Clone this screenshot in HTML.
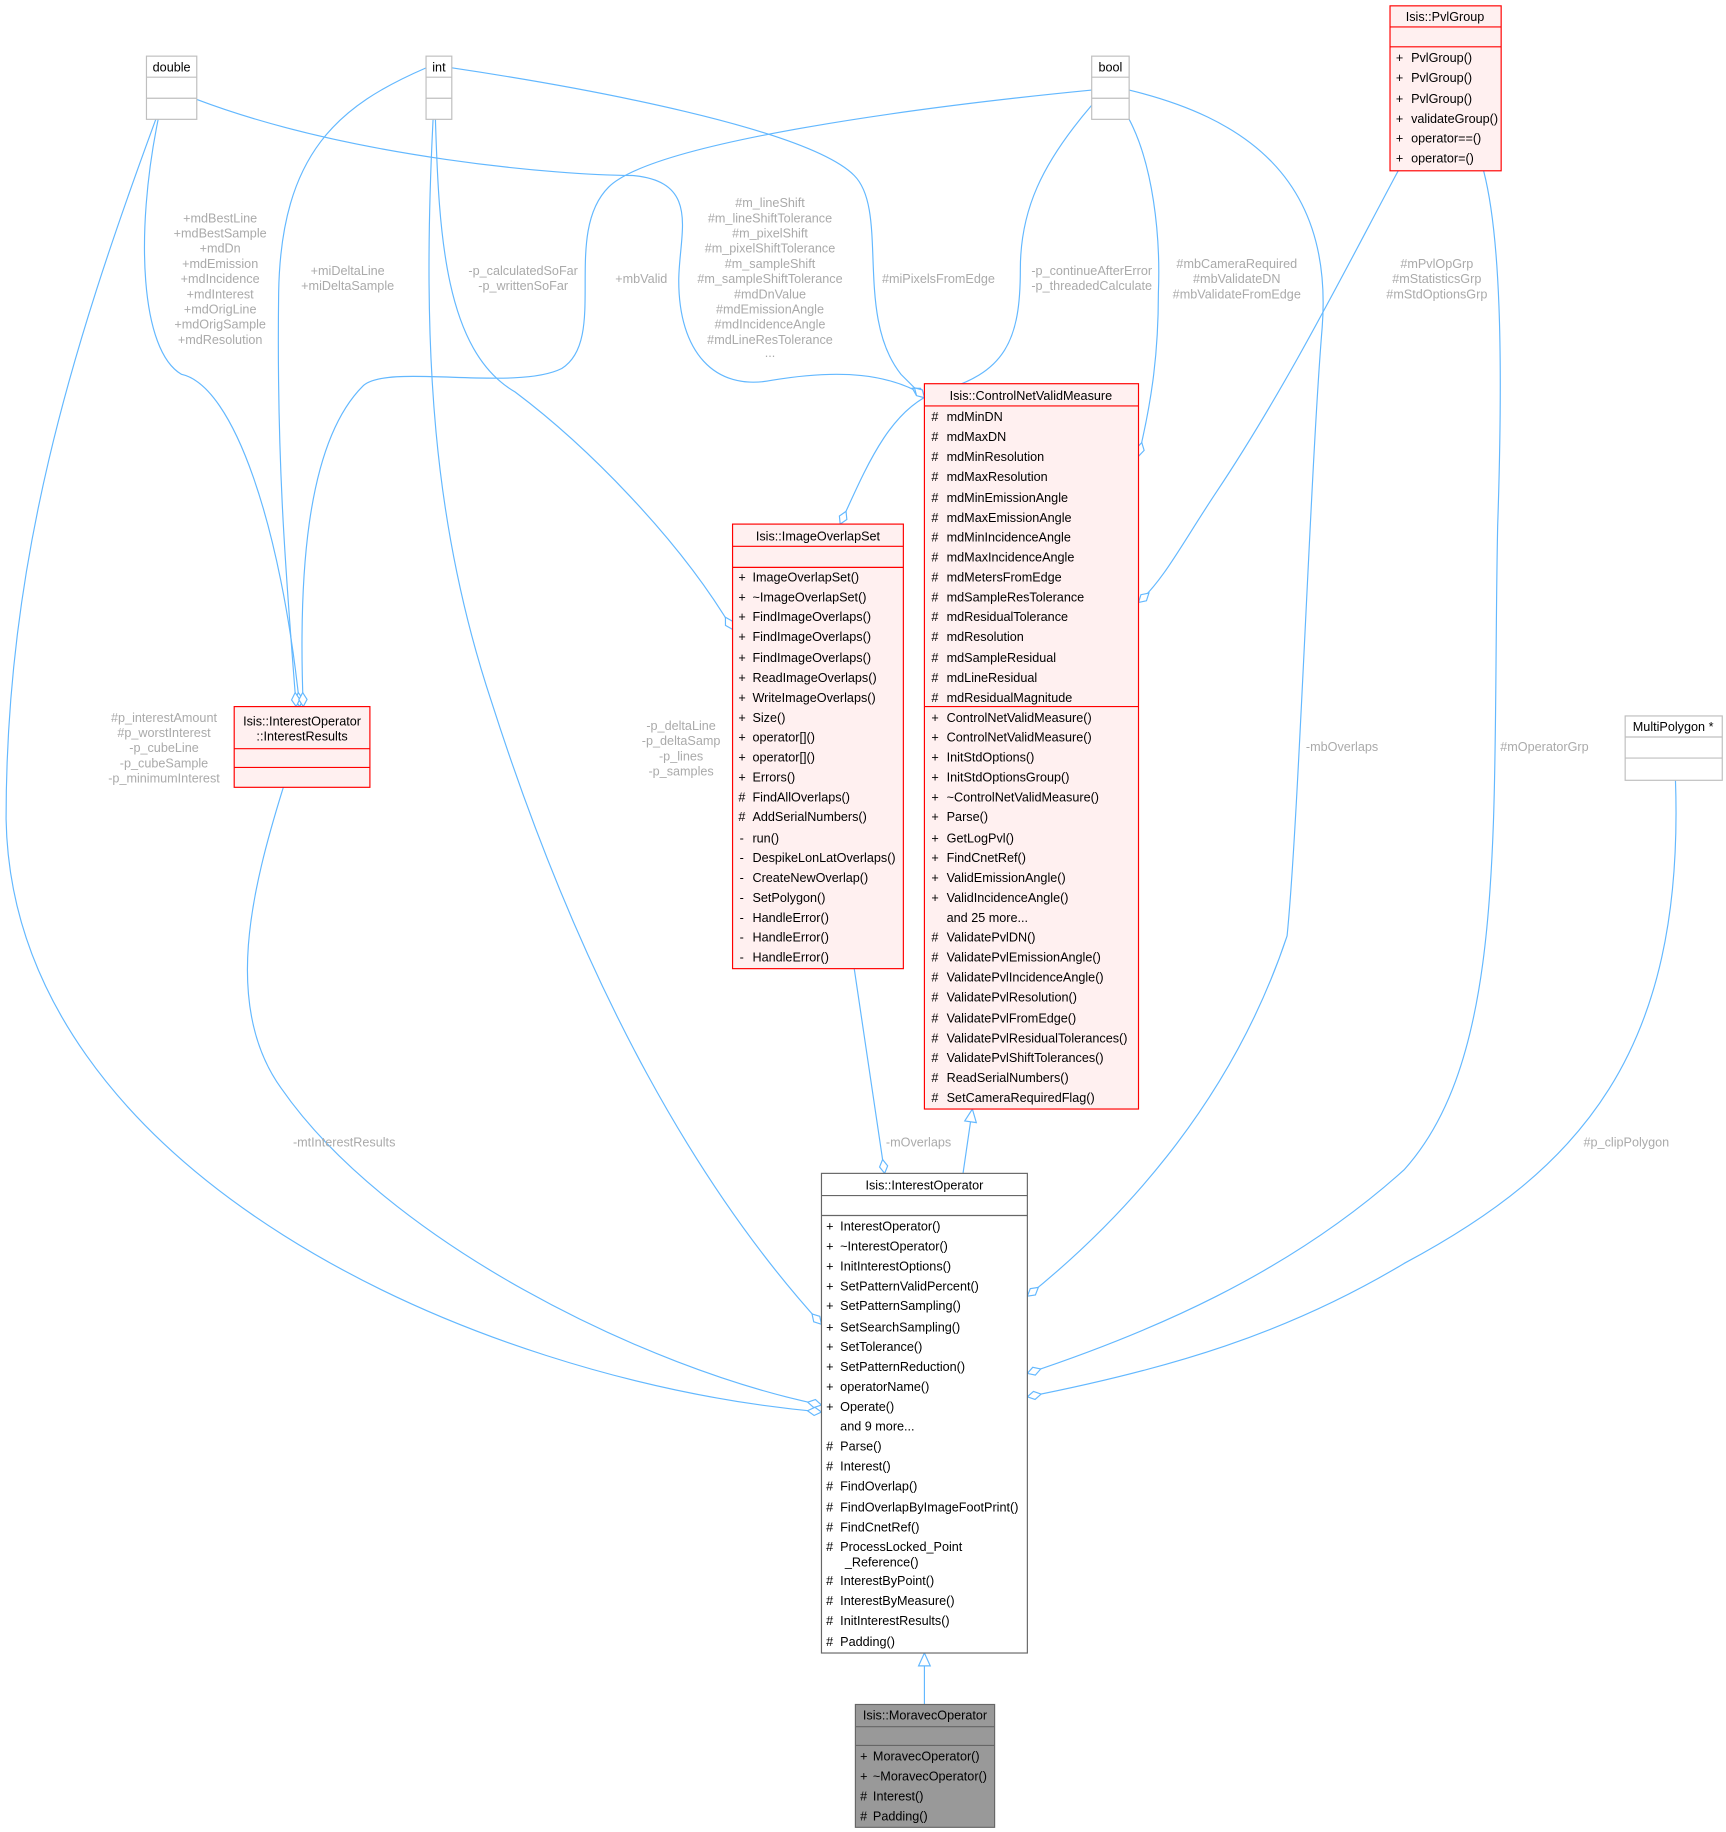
<!DOCTYPE html>
<html><head><meta charset="utf-8"><style>
html,body{margin:0;padding:0;background:#fff;}
svg{display:block;}
text{font-family:"Liberation Sans",Arial,sans-serif;font-size:10.8px;fill:#000;}
.l{fill:#aaa;font-size:10.8px;}
.e{fill:none;stroke:#63b8ff;stroke-width:1;}
</style></head><body>
<svg width="1726" height="1832" viewBox="0 0 1475 1566" xmlns="http://www.w3.org/2000/svg">
<defs>
<marker id="d" markerUnits="userSpaceOnUse" markerWidth="14" markerHeight="10" refX="13" refY="5" orient="auto">
<path d="M1,5 L7,1.5 L13,5 L7,8.5 Z" fill="#fff" stroke="#63b8ff"/></marker>
<marker id="t" markerUnits="userSpaceOnUse" markerWidth="14" markerHeight="12" refX="12" refY="6" orient="auto">
<path d="M1,1 L12,6 L1,11 Z" fill="#fff" stroke="#63b8ff"/></marker>
</defs>

<!-- edges -->
<path class="e" marker-end="url(#d)" d="M133,102 C60,300 5,480 5,700 C10,1000 400,1180 702,1207"/>
<path class="e" marker-end="url(#d)" d="M135,102 C115,200 120,300 155,320 C200,330 240,450 256,604"/>
<path class="e" marker-end="url(#d)" d="M168,85 C300,135 480,150 540,150 C600,155 580,200 580,240 C580,300 610,335 660,325 C720,315 760,320 790,338"/>
<path class="e" marker-end="url(#d)" d="M386,58 C500,75 690,110 730,150 C760,180 730,270 770,320 L790,340"/>
<path class="e" marker-end="url(#d)" d="M364,58 C290,90 240,130 238,250 C236,400 245,500 253,604"/>
<path class="e" marker-end="url(#d)" d="M372,102 C375,200 380,300 440,335 C500,380 580,460 626,538"/>
<path class="e" marker-end="url(#d)" d="M370,102 C360,300 370,450 420,600 C500,850 600,1020 702,1132"/>
<path class="e" marker-end="url(#d)" d="M933,77 C800,90 560,120 520,160 C480,200 520,290 480,315 C440,335 330,310 310,330 C260,380 255,500 259,604"/>
<path class="e" marker-end="url(#d)" d="M933,90 C890,140 872,180 872,230 C872,290 860,320 800,335 C760,350 740,400 718,448"/>
<path class="e" marker-end="url(#d)" d="M965,102 C985,140 992,200 990,250 C990,300 985,340 973,390"/>
<path class="e" marker-end="url(#d)" d="M965,77 C1060,100 1140,150 1130,280 C1120,400 1110,700 1100,800 C1050,950 950,1050 878,1108"/>
<path class="e" marker-end="url(#d)" d="M1195,146 C1150,230 1100,330 1040,420 C1010,465 995,495 973,515"/>
<path class="e" marker-end="url(#d)" d="M1268,146 C1282,200 1285,300 1280,450 C1275,700 1290,900 1200,1000 C1100,1090 980,1140 878,1174"/>
<path class="e" marker-end="url(#d)" d="M1432,667 C1440,900 1350,1000 1200,1080 C1100,1140 1000,1170 878,1194"/>
<path class="e" marker-end="url(#d)" d="M242,673 C215,760 190,860 240,930 C330,1060 550,1170 702,1201"/>
<path class="e" marker-end="url(#d)" d="M730,828 L756,1003"/>
<path class="e" marker-end="url(#t)" d="M823,1003 L831,948"/>
<path class="e" marker-end="url(#t)" d="M790,1457 L790,1413"/>

<!-- edge labels -->
<g class="l" text-anchor="middle">
<text class="l" x="188" y="190">+mdBestLine</text><text class="l" x="188" y="203">+mdBestSample</text><text class="l" x="188" y="216">+mdDn</text><text class="l" x="188" y="229">+mdEmission</text><text class="l" x="188" y="242">+mdIncidence</text><text class="l" x="188" y="255">+mdInterest</text><text class="l" x="188" y="268">+mdOrigLine</text><text class="l" x="188" y="281">+mdOrigSample</text><text class="l" x="188" y="294">+mdResolution</text>
<text class="l" x="297" y="235">+miDeltaLine</text><text class="l" x="297" y="248">+miDeltaSample</text>
<text class="l" x="447" y="235">-p_calculatedSoFar</text><text class="l" x="447" y="248">-p_writtenSoFar</text>
<text class="l" x="548" y="242">+mbValid</text>
<text class="l" x="658" y="177">#m_lineShift</text><text class="l" x="658" y="190">#m_lineShiftTolerance</text><text class="l" x="658" y="203">#m_pixelShift</text><text class="l" x="658" y="216">#m_pixelShiftTolerance</text><text class="l" x="658" y="229">#m_sampleShift</text><text class="l" x="658" y="242">#m_sampleShiftTolerance</text><text class="l" x="658" y="255">#mdDnValue</text><text class="l" x="658" y="268">#mdEmissionAngle</text><text class="l" x="658" y="281">#mdIncidenceAngle</text><text class="l" x="658" y="294">#mdLineResTolerance</text><text class="l" x="658" y="305">...</text>
<text class="l" x="802" y="242">#miPixelsFromEdge</text>
<text class="l" x="933" y="235">-p_continueAfterError</text><text class="l" x="933" y="248">-p_threadedCalculate</text>
<text class="l" x="1057" y="229">#mbCameraRequired</text><text class="l" x="1057" y="242">#mbValidateDN</text><text class="l" x="1057" y="255">#mbValidateFromEdge</text>
<text class="l" x="1228" y="229">#mPvlOpGrp</text><text class="l" x="1228" y="242">#mStatisticsGrp</text><text class="l" x="1228" y="255">#mStdOptionsGrp</text>
<text class="l" x="140" y="617">#p_interestAmount</text><text class="l" x="140" y="630">#p_worstInterest</text><text class="l" x="140" y="643">-p_cubeLine</text><text class="l" x="140" y="656">-p_cubeSample</text><text class="l" x="140" y="669">-p_minimumInterest</text>
<text class="l" x="582" y="624">-p_deltaLine</text><text class="l" x="582" y="637">-p_deltaSamp</text><text class="l" x="582" y="650">-p_lines</text><text class="l" x="582" y="663">-p_samples</text>
<text class="l" x="1147" y="642">-mbOverlaps</text>
<text class="l" x="1320" y="642">#mOperatorGrp</text>
<text class="l" x="294" y="980">-mtInterestResults</text>
<text class="l" x="785" y="980">-mOverlaps</text>
<text class="l" x="1390" y="980">#p_clipPolygon</text>
</g>

<!-- simple type boxes -->
<g fill="#fff" stroke="#bfbfbf">
<rect x="125" y="48" width="43" height="54"/><line x1="125" y1="66" x2="168" y2="66"/><line x1="125" y1="84" x2="168" y2="84"/>
<rect x="364" y="48" width="22" height="54"/><line x1="364" y1="66" x2="386" y2="66"/><line x1="364" y1="84" x2="386" y2="84"/>
<rect x="933" y="48" width="32" height="54"/><line x1="933" y1="66" x2="965" y2="66"/><line x1="933" y1="84" x2="965" y2="84"/>
<rect x="1389" y="612" width="83" height="55"/><line x1="1389" y1="630" x2="1472" y2="630"/><line x1="1389" y1="648" x2="1472" y2="648"/>
</g>
<text x="146.5" y="61" text-anchor="middle">double</text>
<text x="375" y="61" text-anchor="middle">int</text>
<text x="949" y="61" text-anchor="middle">bool</text>
<text x="1430" y="625" text-anchor="middle">MultiPolygon *</text>

<!-- PvlGroup -->
<g fill="#fff0f0" stroke="#ff0000">
<rect x="1188" y="5" width="95" height="141"/><line x1="1188" y1="23" x2="1283" y2="23"/><line x1="1188" y1="40" x2="1283" y2="40"/>
</g>
<text x="1235" y="18" text-anchor="middle">Isis::PvlGroup</text>
<g>
<text x="1193" y="53">+</text><text x="1206" y="53">PvlGroup()</text>
<text x="1193" y="70">+</text><text x="1206" y="70">PvlGroup()</text>
<text x="1193" y="88">+</text><text x="1206" y="88">PvlGroup()</text>
<text x="1193" y="105">+</text><text x="1206" y="105">validateGroup()</text>
<text x="1193" y="122">+</text><text x="1206" y="122">operator==()</text>
<text x="1193" y="139">+</text><text x="1206" y="139">operator=()</text>
</g>

<!-- InterestResults -->
<g fill="#fff0f0" stroke="#ff0000">
<rect x="200" y="604" width="116" height="69"/><line x1="200" y1="640" x2="316" y2="640"/><line x1="200" y1="656" x2="316" y2="656"/>
</g>
<text x="258" y="620" text-anchor="middle">Isis::InterestOperator</text>
<text x="258" y="633" text-anchor="middle">::InterestResults</text>

<!-- ImageOverlapSet -->
<g fill="#fff0f0" stroke="#ff0000">
<rect x="626" y="448" width="146" height="380"/><line x1="626" y1="467" x2="772" y2="467"/><line x1="626" y1="485" x2="772" y2="485"/>
</g>
<text x="699" y="462" text-anchor="middle">Isis::ImageOverlapSet</text>
<g id="ios"></g>
<text x="631" y="497">+</text><text x="643" y="497">ImageOverlapSet()</text>
<text x="631" y="514">+</text><text x="643" y="514">~ImageOverlapSet()</text>
<text x="631" y="531">+</text><text x="643" y="531">FindImageOverlaps()</text>
<text x="631" y="548">+</text><text x="643" y="548">FindImageOverlaps()</text>
<text x="631" y="566">+</text><text x="643" y="566">FindImageOverlaps()</text>
<text x="631" y="583">+</text><text x="643" y="583">ReadImageOverlaps()</text>
<text x="631" y="600">+</text><text x="643" y="600">WriteImageOverlaps()</text>
<text x="631" y="617">+</text><text x="643" y="617">Size()</text>
<text x="631" y="634">+</text><text x="643" y="634">operator[]()</text>
<text x="631" y="651">+</text><text x="643" y="651">operator[]()</text>
<text x="631" y="668">+</text><text x="643" y="668">Errors()</text>
<text x="631" y="685">#</text><text x="643" y="685">FindAllOverlaps()</text>
<text x="631" y="702">#</text><text x="643" y="702">AddSerialNumbers()</text>
<text x="632" y="720">-</text><text x="643" y="720">run()</text>
<text x="632" y="737">-</text><text x="643" y="737">DespikeLonLatOverlaps()</text>
<text x="632" y="754">-</text><text x="643" y="754">CreateNewOverlap()</text>
<text x="632" y="771">-</text><text x="643" y="771">SetPolygon()</text>
<text x="632" y="788">-</text><text x="643" y="788">HandleError()</text>
<text x="632" y="805">-</text><text x="643" y="805">HandleError()</text>
<text x="632" y="822">-</text><text x="643" y="822">HandleError()</text>

<!-- ControlNetValidMeasure -->
<g fill="#fff0f0" stroke="#ff0000">
<rect x="790" y="328" width="183" height="620"/><line x1="790" y1="347" x2="973" y2="347"/><line x1="790" y1="604" x2="973" y2="604"/>
</g>
<text x="881" y="342" text-anchor="middle">Isis::ControlNetValidMeasure</text>
<g>
<text x="796" y="360">#</text><text x="809" y="360">mdMinDN</text>
<text x="796" y="377">#</text><text x="809" y="377">mdMaxDN</text>
<text x="796" y="394">#</text><text x="809" y="394">mdMinResolution</text>
<text x="796" y="411">#</text><text x="809" y="411">mdMaxResolution</text>
<text x="796" y="429">#</text><text x="809" y="429">mdMinEmissionAngle</text>
<text x="796" y="446">#</text><text x="809" y="446">mdMaxEmissionAngle</text>
<text x="796" y="463">#</text><text x="809" y="463">mdMinIncidenceAngle</text>
<text x="796" y="480">#</text><text x="809" y="480">mdMaxIncidenceAngle</text>
<text x="796" y="497">#</text><text x="809" y="497">mdMetersFromEdge</text>
<text x="796" y="514">#</text><text x="809" y="514">mdSampleResTolerance</text>
<text x="796" y="531">#</text><text x="809" y="531">mdResidualTolerance</text>
<text x="796" y="548">#</text><text x="809" y="548">mdResolution</text>
<text x="796" y="566">#</text><text x="809" y="566">mdSampleResidual</text>
<text x="796" y="583">#</text><text x="809" y="583">mdLineResidual</text>
<text x="796" y="600">#</text><text x="809" y="600">mdResidualMagnitude</text>
<text x="796" y="617">+</text><text x="809" y="617">ControlNetValidMeasure()</text>
<text x="796" y="634">+</text><text x="809" y="634">ControlNetValidMeasure()</text>
<text x="796" y="651">+</text><text x="809" y="651">InitStdOptions()</text>
<text x="796" y="668">+</text><text x="809" y="668">InitStdOptionsGroup()</text>
<text x="796" y="685">+</text><text x="809" y="685">~ControlNetValidMeasure()</text>
<text x="796" y="702">+</text><text x="809" y="702">Parse()</text>
<text x="796" y="720">+</text><text x="809" y="720">GetLogPvl()</text>
<text x="796" y="737">+</text><text x="809" y="737">FindCnetRef()</text>
<text x="796" y="754">+</text><text x="809" y="754">ValidEmissionAngle()</text>
<text x="796" y="771">+</text><text x="809" y="771">ValidIncidenceAngle()</text>
<text x="809" y="788">and 25 more...</text>
<text x="796" y="805">#</text><text x="809" y="805">ValidatePvlDN()</text>
<text x="796" y="822">#</text><text x="809" y="822">ValidatePvlEmissionAngle()</text>
<text x="796" y="839">#</text><text x="809" y="839">ValidatePvlIncidenceAngle()</text>
<text x="796" y="856">#</text><text x="809" y="856">ValidatePvlResolution()</text>
<text x="796" y="874">#</text><text x="809" y="874">ValidatePvlFromEdge()</text>
<text x="796" y="891">#</text><text x="809" y="891">ValidatePvlResidualTolerances()</text>
<text x="796" y="908">#</text><text x="809" y="908">ValidatePvlShiftTolerances()</text>
<text x="796" y="925">#</text><text x="809" y="925">ReadSerialNumbers()</text>
<text x="796" y="942">#</text><text x="809" y="942">SetCameraRequiredFlag()</text>
</g>

<!-- InterestOperator -->
<g fill="#fff" stroke="#666">
<rect x="702" y="1003" width="176" height="410"/><line x1="702" y1="1022" x2="878" y2="1022"/><line x1="702" y1="1039" x2="878" y2="1039"/>
</g>
<text x="790" y="1017" text-anchor="middle">Isis::InterestOperator</text>
<g>
<text x="706" y="1052">+</text><text x="718" y="1052">InterestOperator()</text>
<text x="706" y="1069">+</text><text x="718" y="1069">~InterestOperator()</text>
<text x="706" y="1086">+</text><text x="718" y="1086">InitInterestOptions()</text>
<text x="706" y="1103">+</text><text x="718" y="1103">SetPatternValidPercent()</text>
<text x="706" y="1120">+</text><text x="718" y="1120">SetPatternSampling()</text>
<text x="706" y="1138">+</text><text x="718" y="1138">SetSearchSampling()</text>
<text x="706" y="1155">+</text><text x="718" y="1155">SetTolerance()</text>
<text x="706" y="1172">+</text><text x="718" y="1172">SetPatternReduction()</text>
<text x="706" y="1189">+</text><text x="718" y="1189">operatorName()</text>
<text x="706" y="1206">+</text><text x="718" y="1206">Operate()</text>
<text x="718" y="1223">and 9 more...</text>
<text x="706" y="1240">#</text><text x="718" y="1240">Parse()</text>
<text x="706" y="1257">#</text><text x="718" y="1257">Interest()</text>
<text x="706" y="1274">#</text><text x="718" y="1274">FindOverlap()</text>
<text x="706" y="1292">#</text><text x="718" y="1292">FindOverlapByImageFootPrint()</text>
<text x="706" y="1309">#</text><text x="718" y="1309">FindCnetRef()</text>
<text x="706" y="1326">#</text><text x="718" y="1326">ProcessLocked_Point</text>
<text x="722" y="1339">_Reference()</text>
<text x="706" y="1355">#</text><text x="718" y="1355">InterestByPoint()</text>
<text x="706" y="1372">#</text><text x="718" y="1372">InterestByMeasure()</text>
<text x="706" y="1389">#</text><text x="718" y="1389">InitInterestResults()</text>
<text x="706" y="1407">#</text><text x="718" y="1407">Padding()</text>
</g>

<!-- MoravecOperator -->
<g fill="#999" stroke="#666">
<rect x="731" y="1457" width="119" height="105"/><line x1="731" y1="1476" x2="850" y2="1476"/><line x1="731" y1="1492" x2="850" y2="1492"/>
</g>
<text x="790.5" y="1470" text-anchor="middle">Isis::MoravecOperator</text>
<text x="735" y="1505">+</text><text x="746" y="1505">MoravecOperator()</text>
<text x="735" y="1522">+</text><text x="746" y="1522">~MoravecOperator()</text>
<text x="735" y="1539">#</text><text x="746" y="1539">Interest()</text>
<text x="735" y="1556">#</text><text x="746" y="1556">Padding()</text>
</svg>
</body></html>
